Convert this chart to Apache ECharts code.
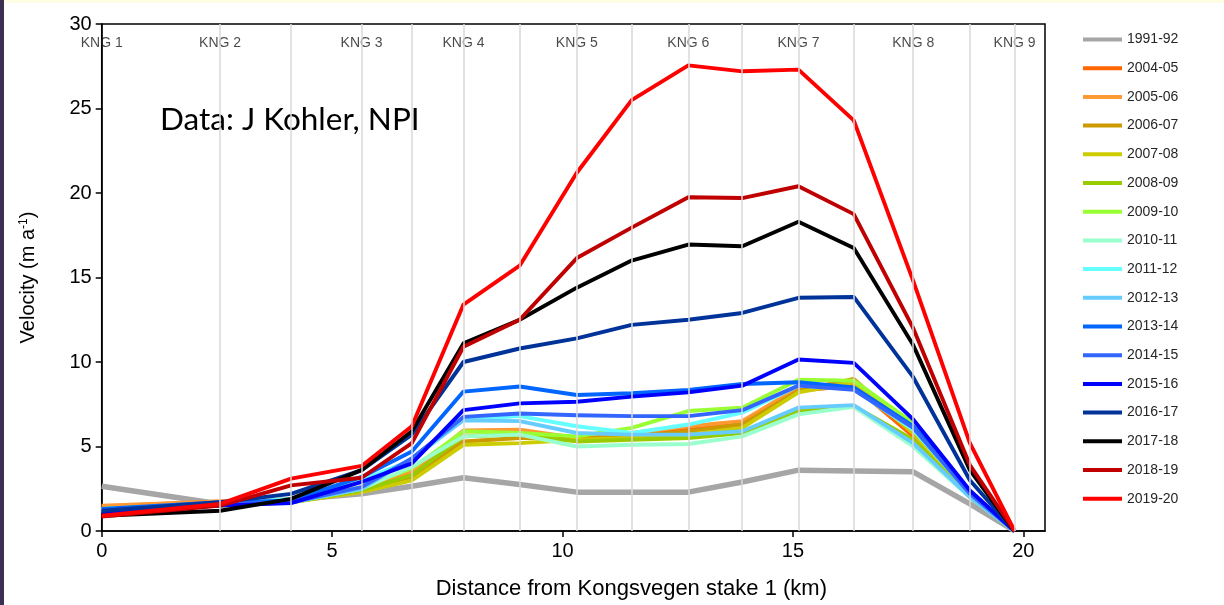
<!DOCTYPE html>
<html>
<head>
<meta charset="utf-8">
<script src="https://cdn.jsdelivr.net/npm/echarts@6/dist/echarts.min.js"></script>
<style>
  html, body { margin: 0; padding: 0; background: #ffffff; }
  #chart { width: 1224px; height: 605px; }
</style>
</head>
<body>
<div id="chart"></div>
<script>
// Stake positions along Kongsvegen (km from stake 1)
const stakeKm = [0, 2.57, 4.11, 5.64, 6.73, 7.85, 9.07, 10.31, 11.50, 12.73, 13.90, 15.12, 16.32, 17.61, 18.84, 19.81];

// Named stakes shown along the top of the plot
const kngNames = ['KNG 1', 'KNG 2', 'KNG 3', 'KNG 4', 'KNG 5', 'KNG 6', 'KNG 7', 'KNG 8', 'KNG 9'];
const kngKm = [0, 2.57, 5.64, 7.85, 10.31, 12.73, 15.12, 17.61, 19.81];

const xTicks = [0, 5, 10, 15, 20];

// Annual velocities (m/a) at each stake
const years = ['1991-92', '2004-05', '2005-06', '2006-07', '2007-08', '2008-09', '2009-10', '2010-11',
  '2011-12', '2012-13', '2013-14', '2014-15', '2015-16', '2016-17', '2017-18', '2018-19', '2019-20'];

const v1991 = [2.65, 1.6, 1.85, 2.2, 2.65, 3.15, 2.75, 2.3, 2.3, 2.3, 2.9, 3.6, 3.55, 3.5, 1.6, 0];
const v2004 = [1.45, 1.75, 1.75, 2.4, 3.3, 5.9, 5.9, 5.3, 5.7, 6.0, 6.4, 8.3, 8.6, 5.6, 2.0, 0];
const v2005 = [1.5, 1.75, 1.75, 2.5, 3.5, 5.95, 6.0, 5.5, 5.8, 6.2, 6.5, 8.5, 8.8, 5.8, 2.1, 0];
const v2006 = [1.3, 1.6, 1.7, 2.4, 3.2, 5.3, 5.5, 5.5, 5.6, 5.9, 6.3, 8.3, 9.0, 5.9, 2.1, 0];
const v2007 = [1.2, 1.5, 1.7, 2.3, 3.0, 5.1, 5.2, 5.4, 5.5, 5.7, 6.1, 8.2, 8.8, 5.8, 2.0, 0];
const v2008 = [1.2, 1.5, 1.7, 2.4, 3.3, 5.6, 5.7, 5.3, 5.4, 5.5, 5.8, 7.1, 7.4, 5.4, 2.0, 0];
const v2009 = [1.3, 1.6, 1.8, 2.6, 3.7, 5.9, 5.8, 5.6, 6.1, 7.1, 7.3, 8.95, 8.9, 6.4, 2.3, 0];
const v2010 = [1.2, 1.5, 1.7, 2.5, 3.8, 5.6, 5.7, 5.0, 5.1, 5.15, 5.6, 6.9, 7.35, 5.0, 2.0, 0];
const v2011 = [1.3, 1.6, 1.9, 3.0, 4.2, 6.6, 6.8, 6.2, 5.8, 6.3, 7.0, 8.6, 8.4, 6.0, 2.2, 0];
const v2012 = [1.2, 1.6, 1.7, 2.5, 4.3, 6.55, 6.5, 5.8, 5.7, 5.7, 5.9, 7.3, 7.45, 5.2, 2.0, 0];
const v2013 = [1.3, 1.7, 1.8, 3.2, 4.7, 8.25, 8.55, 8.05, 8.15, 8.35, 8.7, 8.8, 8.5, 6.2, 2.3, 0];
const v2014 = [1.2, 1.6, 1.7, 2.6, 4.3, 6.75, 6.95, 6.85, 6.8, 6.8, 7.15, 8.6, 8.35, 6.1, 2.2, 0];
const v2015 = [1.1, 1.5, 1.65, 2.9, 4.0, 7.15, 7.55, 7.65, 7.95, 8.2, 8.6, 10.15, 9.95, 6.6, 2.4, 0];
const v2016 = [1.2, 1.7, 2.2, 3.6, 5.7, 10.0, 10.8, 11.4, 12.2, 12.5, 12.9, 13.8, 13.85, 9.1, 3.0, 0];
const v2017 = [0.9, 1.2, 1.9, 3.6, 5.9, 11.1, 12.5, 14.4, 16.0, 16.95, 16.85, 18.3, 16.75, 11.0, 3.6, 0];
const v2018 = [0.85, 1.5, 2.7, 3.15, 5.2, 10.9, 12.5, 16.15, 17.95, 19.75, 19.7, 20.4, 18.75, 12.0, 3.9, 0];
const v2019 = [0.9, 1.6, 3.1, 3.85, 6.2, 13.4, 15.7, 21.2, 25.5, 27.55, 27.2, 27.3, 24.3, 14.8, 5.2, 0];

const values = [v1991, v2004, v2005, v2006, v2007, v2008, v2009, v2010,
  v2011, v2012, v2013, v2014, v2015, v2016, v2017, v2018, v2019];

const colors = ['#A6A6A6', '#FF6600', '#FF9933', '#CC9900', '#CCCC00', '#99CC00', '#99FF33', '#99FFCC',
  '#66FFFF', '#66CCFF', '#0066FF', '#3366FF', '#0000FF', '#003399', '#000000', '#C00000', '#FF0000'];

const FONT = '"Liberation Sans", Arial, sans-serif';

const chart = echarts.init(document.getElementById('chart'), null, { renderer: 'canvas' });

// Helper series: stake gridlines and KNG labels
const stakeSeries = {
  name: 'stakes',
  type: 'scatter',
  z: 1,
  silent: true,
  symbolSize: 0,
  data: kngKm.map((x, i) => ({ value: [x, 28.85], name: kngNames[i] })),
  label: {
    show: true,
    position: 'inside',
    formatter: p => p.name,
    color: '#1a1a1a',
    fontFamily: FONT,
    fontSize: 14
  },
  markLine: {
    silent: true,
    symbol: 'none',
    label: { show: false },
    lineStyle: { color: '#d9d9d9', width: 1.5, type: 'solid' },
    emphasis: { disabled: true },
    data: stakeKm.slice(1).map(x => ({ xAxis: x }))
  }
};

const lineSeries = years.map((y, i) => ({
  name: y,
  type: 'line',
  z: 2,
  showSymbol: false,
  symbol: 'none',
  silent: true,
  data: stakeKm.map((x, j) => [x, values[i][j]]),
  lineStyle: { color: colors[i], width: i === 0 ? 5.5 : 3.9, join: 'round' },
  itemStyle: { color: colors[i] }
}));

chart.setOption({
  animation: false,
  backgroundColor: '#ffffff',
  graphic: [
    { type: 'rect', left: 0, top: 0, shape: { width: 1224, height: 3 }, style: { fill: '#fffde3' }, silent: true },
    { type: 'rect', left: 0, top: 0, shape: { width: 4, height: 605 }, style: { fill: '#3d2f52' }, silent: true },
    {
      type: 'text', left: 160, top: 104, silent: true,
      style: { text: 'Data: J Kohler, NPI', font: '31.5px Lato, "Open Sans", sans-serif', fill: '#000000' }
    }
  ],
  grid: {
    left: 101.7, top: 24, width: 943.3, height: 507,
    show: true, borderColor: '#000000', borderWidth: 1.5, backgroundColor: 'transparent'
  },
  legend: {
    orient: 'vertical',
    left: 1078, top: 27,
    icon: 'rect',
    itemWidth: 39, itemHeight: 4,
    itemGap: 13.7,
    data: years,
    textStyle: { fontFamily: FONT, fontSize: 14, color: '#262626', lineHeight: 15 },
    selectedMode: false
  },
  xAxis: {
    type: 'value',
    min: 0, max: 20.47,
    interval: 5,
    name: 'Distance from Kongsvegen stake 1 (km)',
    nameLocation: 'middle',
    nameGap: 47,
    nameTextStyle: { fontFamily: FONT, fontSize: 22, color: '#000000', padding: [0, 0, 0, 116] },
    axisLine: { lineStyle: { color: '#000000', width: 1.5 } },
    axisTick: { show: true, length: 6, lineStyle: { color: '#000000', width: 1.5 }, customValues: xTicks },
    axisLabel: { fontFamily: FONT, fontSize: 20, color: '#000000', margin: 10, customValues: xTicks },
    splitLine: { show: false }
  },
  yAxis: {
    type: 'value',
    min: 0, max: 30, interval: 5,
    name: 'Velocity (m a{sup|-1})',
    nameLocation: 'middle',
    nameRotate: 90,
    nameGap: 63,
    nameTextStyle: {
      fontFamily: FONT, fontSize: 20, color: '#000000',
      rich: { sup: { fontFamily: FONT, fontSize: 12, verticalAlign: 'top', padding: [0, 0, 9, 0], color: '#000000' } }
    },
    axisLine: { show: true, lineStyle: { color: '#000000', width: 1.5 } },
    axisTick: { show: true, length: 6, lineStyle: { color: '#000000', width: 1.5 } },
    axisLabel: { fontFamily: FONT, fontSize: 20, color: '#000000', margin: 10 },
    splitLine: { show: false }
  },
  series: [stakeSeries].concat(lineSeries)
});
</script>
</body>
</html>
